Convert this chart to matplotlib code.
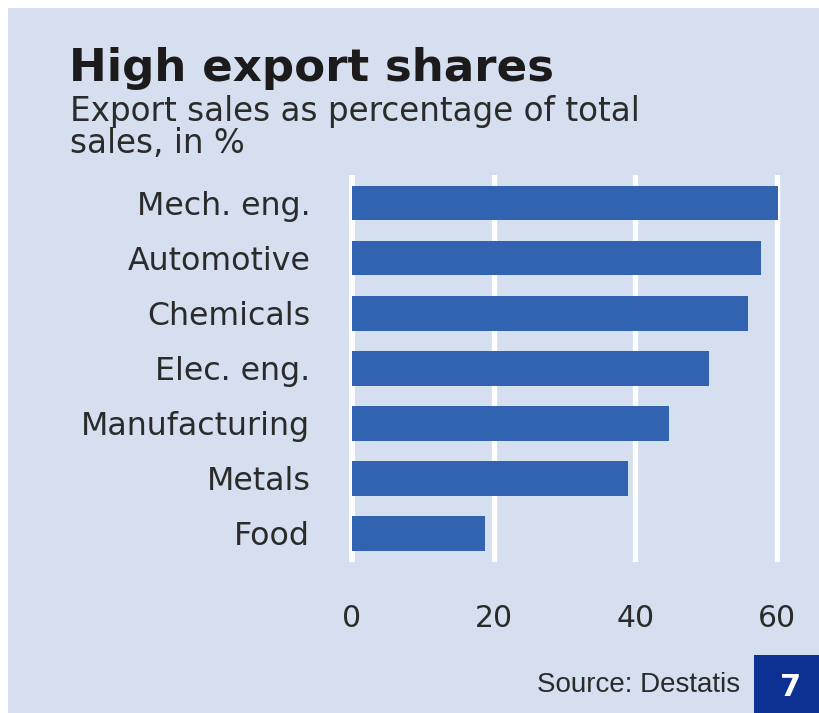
import matplotlib
matplotlib.use("Agg")
import matplotlib.pyplot as plt
from matplotlib.patches import Rectangle

# Export sales as share of total sales, by industry (%)
categories = ["Mech. eng.", "Automotive", "Chemicals", "Elec. eng.",
              "Manufacturing", "Metals", "Food"]
values = [60.2, 57.8, 55.9, 50.4, 44.8, 39.0, 18.8]
x_ticks = [0, 20, 40, 60]

BG = "#d5dfef"
BAR = "#3163b0"
TEXT = "#2b2b2b"

W, H = 819, 713
fig = plt.figure(figsize=(W / 100, H / 100), dpi=100)
fig.patch.set_facecolor("white")

# light panel behind everything
fig.patches.append(Rectangle((8 / W, 0), 1 - 8 / W, 1 - 8 / H,
                             transform=fig.transFigure, facecolor=BG,
                             edgecolor="none", zorder=-5))

ax = fig.add_axes([345 / W, (H - 562) / H, 445 / W, 387 / H])
ax.set_facecolor("none")
ax.set_zorder(2)

ypos = list(range(len(categories)))
ax.barh(ypos, values, height=0.63, color=BAR, zorder=3)

ax.set_xlim(-0.99, 61.84)
ax.set_ylim(len(categories) - 0.5 + 0.02, -0.51)

ax.set_xticks(x_ticks)
ax.set_xticklabels([str(t) for t in x_ticks])
ax.set_yticks(ypos)
ax.set_yticklabels(categories)

for t in x_ticks:
    ax.axvline(t, color="white", lw=3.8 if t else 4.4, zorder=1)

for s in ax.spines.values():
    s.set_visible(False)
ax.tick_params(axis="both", length=0, colors=TEXT)
ax.tick_params(axis="x", pad=30, labelsize=21.5)
ax.tick_params(axis="y", pad=25, labelsize=22.8)
for lab in ax.get_xticklabels() + ax.get_yticklabels():
    lab.set_fontfamily("DejaVu Sans")

# heading
fig.text(69 / W, 1 - 81 / H, "High export shares", fontsize=32.5,
         fontweight="bold", family="DejaVu Sans", color="#1c1a1a",
         va="baseline", ha="left")
fig.text(70 / W, 1 - 121 / H, "Export sales as percentage of total",
         fontsize=23.5, family="DejaVu Sans", color=TEXT,
         va="baseline", ha="left")
fig.text(70 / W, 1 - 153 / H, "sales, in %", fontsize=23.5,
         family="DejaVu Sans", color=TEXT, va="baseline", ha="left")

# footer
fig.text(740 / W, 1 - 692 / H, "Source: Destatis", fontsize=20,
         family="Liberation Sans", color=TEXT, va="baseline", ha="right")
fig.patches.append(Rectangle((754 / W, 0), 1 - 754 / W, (H - 655) / H,
                             transform=fig.transFigure, facecolor="#0d3192",
                             edgecolor="none", zorder=1))
fig.text(791 / W, 1 - 688 / H, "7", fontsize=22, fontweight="bold",
         family="DejaVu Sans", color="white", va="center", ha="center")

fig.savefig("out.png", dpi=100, facecolor=fig.get_facecolor())
